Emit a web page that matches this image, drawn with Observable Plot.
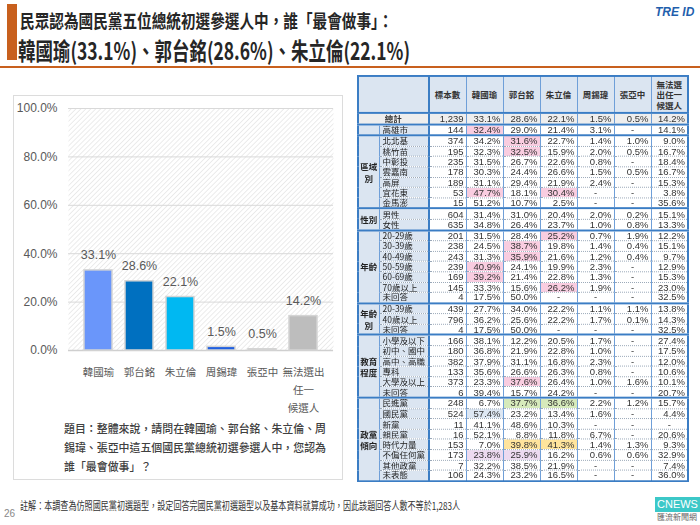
<!DOCTYPE html>
<html><head><meta charset="utf-8">
<script src="https://cdn.jsdelivr.net/npm/d3@7"></script>
<script src="https://cdn.jsdelivr.net/npm/@observablehq/plot@0.6"></script>
<style>
html,body{margin:0;padding:0;background:#fff;}
#stage{position:relative;width:700px;height:525px;overflow:hidden;font-family:"Noto Sans CJK TC","Noto Sans",sans-serif;}
.abs{position:absolute;white-space:nowrap;transform-origin:left center;}
#tbl{position:absolute;left:357px;top:75px;width:330px;border-collapse:collapse;table-layout:fixed;border:2px solid #3b7dc4;font-family:"Liberation Sans",Arial,sans-serif;font-size:9.5px;color:#333;transform-origin:left top;}
#tbl td{height:9.6px;padding:0 2px;line-height:9px;white-space:nowrap;overflow:hidden;border-top:1px dotted #9aa8b8;border-left:1px solid #6f9fd8;}
#tbl th{height:36px;background:#dbe5f1;font-family:"Noto Sans CJK TC",sans-serif;font-size:8.5px;font-weight:700;line-height:11px;border-left:1px solid #6f9fd8;border-bottom:2px solid #3b7dc4;color:#333;padding:0;}
#tbl tr.tot td{background:#eeeeee;border-top:2px solid #3b7dc4;}
#tbl tr.gs td{border-top:2px solid #3b7dc4;}
#tbl td.lab{background:#dbe5f1;font-family:"Noto Sans CJK TC",sans-serif;font-size:8.5px;text-align:left;padding-left:3px;color:#222;}
#tbl td.grp{background:#dbe5f1;font-family:"Noto Sans CJK TC",sans-serif;font-size:8.5px;text-align:center;line-height:12px;font-weight:700;padding:0;color:#222;}
#tbl td.c{text-align:center;font-weight:700;}
#tbl td.n{text-align:right;}
#tbl td.d{text-align:center;}
#tbl td.first{border-left:2px solid #3b7dc4;}
</style></head><body><div id="stage">
<div style="position:absolute;left:7px;top:4px;width:10px;height:56px;background:#c8601e"></div>
<div style="position:absolute;left:0;top:66px;width:700px;height:2px;background:#c8601e"></div>
<div id="t1" class="abs" style="left:20px;top:9px;font-size:18.5px;line-height:22px;font-weight:700;color:#262626">民眾認為國民黨五位總統初選參選人中，誰「最會做事」：</div>
<div id="t2" class="abs" style="left:18px;top:37px;font-size:23.5px;line-height:27px;font-weight:700;color:#262626">韓國瑜(33.1%)、郭台銘(28.6%)、朱立倫(22.1%)</div>
<div class="abs" style="left:655px;top:5px;font-family:'Liberation Sans',Arial;font-size:12px;font-weight:700;font-style:italic;color:#1f5fad">TRE ID</div>
<div style="position:absolute;left:13px;top:95px;width:330px;height:385px;border:1px solid #dcdcdc;box-sizing:border-box"></div>
<div id="chart" style="position:absolute;left:14px;top:95px"></div>
<div id="q1" class="abs" style="left:64px;top:420px;font-size:11.5px;line-height:16px;color:#404040;font-weight:500">題目：整體來說，請問在韓國瑜、郭台銘、朱立倫、周</div>
<div id="q2" class="abs" style="left:64px;top:439px;font-size:11.5px;line-height:16px;color:#404040;font-weight:500">錫瑋、張亞中這五個國民黨總統初選參選人中，您認為</div>
<div id="q3" class="abs" style="left:64px;top:458px;font-size:11.5px;line-height:16px;color:#404040;font-weight:500">誰「最會做事」？</div>
<div id="fn" class="abs" style="left:20px;top:498px;font-size:11px;line-height:14px;color:#333">註解：本調查為仿照國民黨初選題型，設定回答完國民黨初選題型以及基本資料就算成功，因此該題回答人數不等於1,283人</div>
<div class="abs" style="left:4px;top:508px;font-family:'Liberation Sans',Arial;font-size:10px;color:#888">26</div>
<div style="position:absolute;left:655px;top:497px;width:45px;height:15px;background:#3cc8c8;color:#fff;font-family:'Liberation Sans',Arial;font-size:11px;line-height:15px;text-align:center">CNEWS</div>
<div class="abs" style="left:657px;top:512px;font-size:8px;line-height:10px;color:#666">匯流新聞網</div>
</div>
<script>
// ---- Bar chart data ----
const candidates = ["韓國瑜","郭台銘","朱立倫","周錫瑋","張亞中","無法選出任一候選人"];
const candidateLabels = ["韓國瑜","郭台銘","朱立倫","周錫瑋","張亞中","無法選出\n任一\n候選人"];
const shares = [33.1, 28.6, 22.1, 1.5, 0.5, 14.2];
const yTicks = [0, 20, 40, 60, 80, 100];
const barColors = ["#6a96fa","#0070c0","#00b8f2","#1f5fe0","#bdd7f2","#bdbdbd"];

// ---- Table data ----
const tableColumns = ["標本數","韓國瑜","郭台銘","朱立倫","周錫瑋","張亞中","無法選出任一候選人"];
const totalN = 1239;
const totalPct = [33.1, 28.6, 22.1, 1.5, 0.5, 14.2];
const groupLabels = ["", "區域別", "性別", "年齡", "年齡別", "教育程度", "政黨傾向"];
const groupSizes = [1, 7, 2, 7, 3, 6, 8];
const tableRows = [
  ["高雄市",144,32.4,29.0,21.4,3.1,null,14.1],
  ["北北基",374,34.2,31.6,22.7,1.4,1.0,9.0],
  ["桃竹苗",195,32.3,32.5,15.9,2.0,0.5,16.7],
  ["中彰投",235,31.5,26.7,22.6,0.8,null,18.4],
  ["雲嘉南",178,30.3,24.4,26.6,1.5,0.5,16.7],
  ["高屏",189,31.1,29.4,21.9,2.4,null,15.3],
  ["宜花東",53,47.7,18.1,30.4,null,null,3.8],
  ["金馬澎",15,51.2,10.7,2.5,null,null,35.6],
  ["男性",604,31.4,31.0,20.4,2.0,0.2,15.1],
  ["女性",635,34.8,26.4,23.7,1.0,0.8,13.3],
  ["20-29歲",201,31.5,28.4,25.2,0.7,1.9,12.2],
  ["30-39歲",238,24.5,38.7,19.8,1.4,0.4,15.1],
  ["40-49歲",243,31.3,35.9,21.6,1.2,0.4,9.7],
  ["50-59歲",239,40.9,24.1,19.9,2.3,null,12.9],
  ["60-69歲",169,39.2,21.4,22.8,1.3,null,15.3],
  ["70歲以上",145,33.3,15.6,26.2,1.9,null,23.0],
  ["未回答",4,17.5,50.0,null,null,null,32.5],
  ["20-39歲",439,27.7,34.0,22.2,1.1,1.1,13.8],
  ["40歲以上",796,36.2,25.6,22.2,1.7,0.1,14.3],
  ["未回答",4,17.5,50.0,null,null,null,32.5],
  ["小學及以下",166,38.1,12.2,20.5,1.7,null,27.4],
  ["初中、國中",180,36.8,21.9,22.8,1.0,null,17.5],
  ["高中、高職",382,37.9,31.1,16.8,2.3,null,12.0],
  ["專科",133,35.6,26.6,26.3,0.8,null,10.6],
  ["大學及以上",373,23.3,37.6,26.4,1.0,1.6,10.1],
  ["未回答",6,39.4,15.7,24.2,null,null,20.7],
  ["民進黨",248,6.7,37.7,36.6,2.2,1.2,15.7],
  ["國民黨",524,57.4,23.2,13.4,1.6,null,4.4],
  ["新黨",11,41.1,48.6,10.3,null,null,null],
  ["親民黨",16,52.1,8.8,11.8,6.7,null,20.6],
  ["時代力量",153,7.0,39.8,41.3,1.4,1.3,9.3],
  ["不偏任何黨",173,23.8,25.9,16.2,0.6,0.6,32.9],
  ["其他政黨",7,32.2,38.5,21.9,null,null,7.4],
  ["未表態",106,24.3,23.2,16.5,null,null,36.0]
];
// highlighted cells: [row index, percent column index, kind]
const highlights = [
  [0,0,"pink"],[1,1,"pink"],[2,1,"pink"],[6,0,"pink"],[6,2,"pink"],
  [10,2,"pink"],[11,1,"pink"],[12,1,"pink"],[13,0,"pink"],[14,0,"pink"],[15,2,"pink"],
  [24,1,"pink"],[26,1,"green"],[26,2,"green"],[27,0,"blue"],
  [30,1,"yellow"],[30,2,"yellow"],[31,0,"purple"],[31,1,"purple"]
];
const hlColors = {pink:"#f9cde0", green:"#d6eabb", blue:"#dde7f3", yellow:"#ffe49c", purple:"#eddaf0"};

// ---- Chart ----
const data = candidates.map((c, i) => ({c, v: shares[i]}));
const labelOf = Object.fromEntries(candidates.map((c, i) => [c, candidateLabels[i]]));
const chart = Plot.plot({
  width: 330, height: 330,
  marginTop: 13, marginBottom: 75, marginLeft: 54, marginRight: 11,
  style: {fontFamily: "'Liberation Sans', Arial, sans-serif", fontSize: "12px", color: "#595959", background: "transparent", overflow: "visible"},
  x: {domain: candidates, padding: 0.32, label: null, axis: null},
  y: {domain: [0, 100], label: null, axis: null},
  color: {domain: candidates, range: barColors},
  marks: [
    Plot.frame({fill: "url(#hatch)", stroke: null}),
    Plot.gridY(yTicks, {stroke: "#d9d9d9", strokeOpacity: 1, strokeWidth: 1}),
    Plot.ruleY([0], {stroke: "#cfcfcf", strokeWidth: 1.5}),
    Plot.barY(data, {x: "c", y: "v", fill: "c", stroke: "#d4d4d4", strokeWidth: 1.5}),
    Plot.text(data, {x: "c", y: "v", text: d => d.v.toFixed(1) + "%", dy: -15, fontSize: 12.5, fill: "#595959"}),
    Plot.axisY(yTicks, {tickSize: 0, tickPadding: 11, tickFormat: d => d.toFixed(1) + "%", fontSize: 12, fill: "#595959"}),
    Plot.axisX({tickSize: 0, tickPadding: 12, tickFormat: d => labelOf[d], lineHeight: 1.75, fontSize: 10.5, fontFamily: "'Noto Sans CJK TC', sans-serif", fill: "#595959"})
  ]
});
const ns = "http://www.w3.org/2000/svg";
const defs = document.createElementNS(ns, "defs");
defs.innerHTML = '<pattern id="hatch" width="3.5" height="3.5" patternUnits="userSpaceOnUse" patternTransform="rotate(45)"><rect width="3.5" height="3.5" fill="#ffffff"/><line x1="0" y1="0" x2="0" y2="3.5" stroke="#e4e4e4" stroke-width="1.4"/></pattern>';
chart.prepend(defs);
document.getElementById("chart").appendChild(chart);

// ---- Table ----
const fmtN = n => d3.format(",")(n);
const fmtP = p => p == null ? "-" : p.toFixed(1) + "%";
const wrapHead = s => s.length > 4 ? s.match(/.{1,3}/g).join("<br>") : s;
const breakTwo = s => (s.match(/.{1,2}/g) || []).join("<br>");
const hl = new Map(highlights.map(([r, j, k]) => [r + "," + j, k]));
const widths = [21, 49.5, 37.5, 37, 37, 37, 37, 37, 37];
let html = "<colgroup>" + widths.map(w => `<col style="width:${w}px">`).join("") + "</colgroup>";
html += `<tr class="hdr"><th colspan="2" style="border-left:none"></th>${tableColumns.map((c, i) => `<th${i === 0 ? ' style="border-left:2px solid #3b7dc4"' : ''}>${wrapHead(c)}</th>`).join("")}</tr>`;
html += `<tr class="tot"><td colspan="2" class="c" style="font-family:'Noto Sans CJK TC';font-size:8.5px">總計</td><td class="n first">${fmtN(totalN)}</td>${totalPct.map(p => `<td class="n">${fmtP(p)}</td>`).join("")}</tr>`;
let r = 0;
groupLabels.forEach((g, gi) => {
  const cnt = groupSizes[gi];
  for (let k = 0; k < cnt; k++, r++) {
    const row = tableRows[r];
    html += `<tr class="${k === 0 ? 'gs' : ''}">`;
    if (k === 0) html += `<td rowspan="${cnt}" class="grp" style="border-left:none">${breakTwo(g)}</td>`;
    html += `<td class="lab">${row[0]}</td><td class="n first">${fmtN(row[1])}</td>`;
    for (let j = 0; j < 6; j++) {
      const p = row[2 + j];
      const h = hl.get(r + "," + j);
      html += `<td class="${p == null ? 'd' : 'n'}"${h ? ` style="background:${hlColors[h]}"` : ''}>${fmtP(p)}</td>`;
    }
    html += "</tr>";
  }
});
const tbl = document.createElement("table");
tbl.id = "tbl";
tbl.innerHTML = html;
document.getElementById("stage").appendChild(tbl);
// stretch table to the reference's height (75 → 482)
const th = tbl.getBoundingClientRect().height;
tbl.style.transform = `scaleY(${407 / th})`;

// ---- fit condensed text widths ----
function fit(id, w) {
  const el = document.getElementById(id);
  const nat = el.getBoundingClientRect().width;
  const s = w / nat;
  el.style.transform = `scaleX(${s})`;
  return s;
}
fit("t1", 373);
fit("t2", 392);
fit("fn", 440);
const qs = fit("q1", 262);
fit("q2", 262);
document.getElementById("q3").style.transform = `scaleX(${qs})`;
</script>
</body></html>
